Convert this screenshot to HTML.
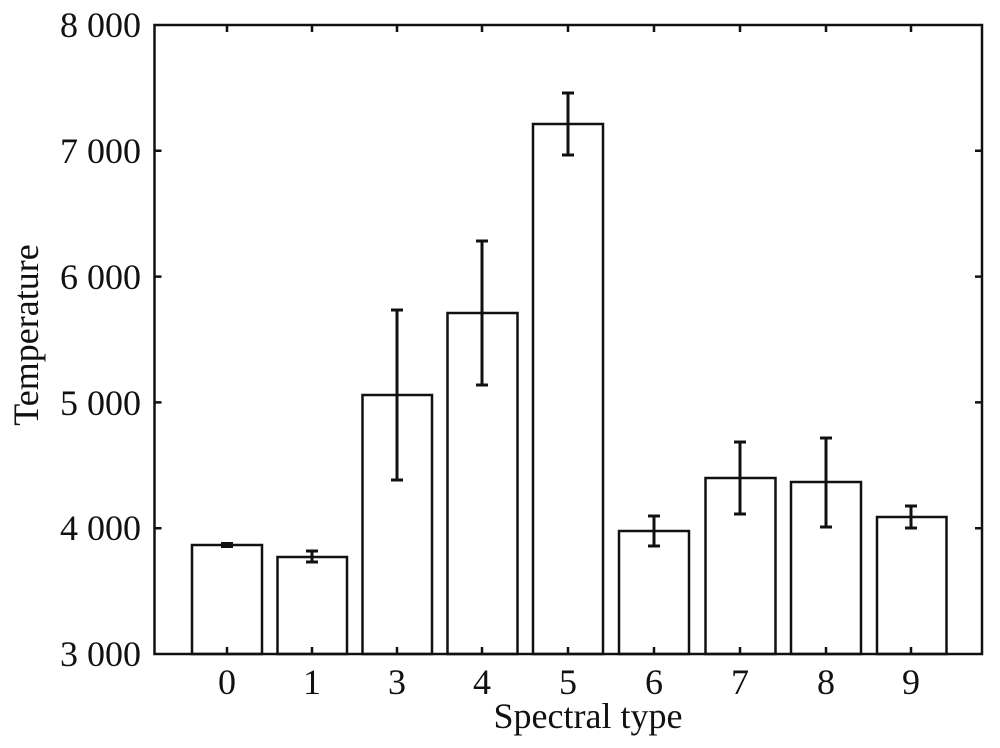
<!DOCTYPE html>
<html><head><style>body{margin:0;background:#fff}</style></head><body>
<svg width="1000" height="743" xmlns="http://www.w3.org/2000/svg" font-family="Liberation Serif, serif" fill="none" stroke="#111" stroke-width="2.5">
<g fill="none">
<rect x="192" y="545" width="70" height="109"/>
<rect x="277.5" y="557" width="69.5" height="97"/>
<rect x="362.5" y="395" width="69.5" height="259"/>
<rect x="447.5" y="313" width="70" height="341"/>
<rect x="533" y="124" width="70" height="530"/>
<rect x="619" y="531" width="70" height="123"/>
<rect x="705.5" y="478" width="70" height="176"/>
<rect x="791" y="482" width="70" height="172"/>
<rect x="877" y="517" width="69.5" height="137"/>
</g>
<g stroke-width="3">
<path d="M227 543.5V546.5M221 543.5H233M221 546.5H233"/>
<path d="M312 551V562M306 551H318M306 562H318"/>
<path d="M397 310V480M391 310H403M391 480H403"/>
<path d="M482 241V385M476 241H488M476 385H488"/>
<path d="M568 93V155M562 93H574M562 155H574"/>
<path d="M654 516V546M648 516H660M648 546H660"/>
<path d="M740 442V514M734 442H746M734 514H746"/>
<path d="M826 438V527M820 438H832M820 527H832"/>
<path d="M911 506V528M905 506H917M905 528H917"/>
</g>
<rect x="154.5" y="25" width="827.5" height="629"/>
<g>
<path d="M154.5 150.8h7M154.5 276.6h7M154.5 402.4h7M154.5 528.2h7"/>
<path d="M975 150.8h7M975 276.6h7M975 402.4h7M975 528.2h7"/>
<path d="M227 654v-7M312 654v-7M397 654v-7M482 654v-7M568 654v-7M654 654v-7M740 654v-7M826 654v-7M911 654v-7"/>
<path d="M227 25v7M312 25v7M397 25v7M482 25v7M568 25v7M654 25v7M740 25v7M826 25v7M911 25v7"/>
</g>
<g fill="#111" stroke="none" font-size="36">
<g text-anchor="end">
<text x="141" y="37">8 000</text>
<text x="141" y="163">7 000</text>
<text x="141" y="289">6 000</text>
<text x="141" y="415">5 000</text>
<text x="141" y="540">4 000</text>
<text x="141" y="666">3 000</text>
</g>
<g text-anchor="middle">
<text x="227" y="694">0</text><text x="312" y="694">1</text><text x="397" y="694">3</text>
<text x="482" y="694">4</text><text x="568" y="694">5</text><text x="654" y="694">6</text>
<text x="740" y="694">7</text><text x="826" y="694">8</text><text x="911" y="694">9</text>
<text x="588" y="728">Spectral type</text>
<text transform="translate(38 335) rotate(-90)">Temperature</text>
</g>
</g>
</svg>
</body></html>
